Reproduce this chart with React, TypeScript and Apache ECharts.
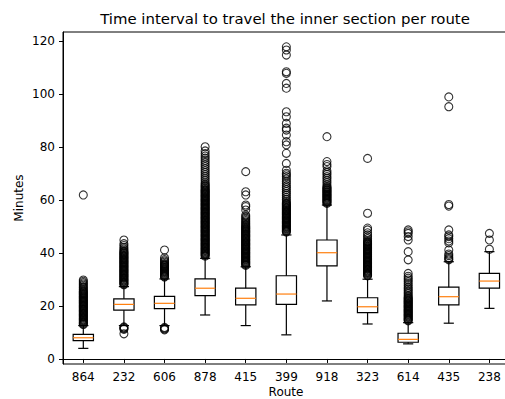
import React, { useEffect, useRef } from "react";
import * as echarts from "echarts";

// Bus routes, in plotting order
const routes = ["864", "232", "606", "878", "415", "399", "918", "323", "614", "435", "238"];

// Box statistics (minutes): whisker ends, quartiles and median per route
const whiskerLow = [4.0, 12.6, 12.6, 16.6, 12.6, 9.1, 21.9, 13.2, 5.7, 13.5, 19.1];
const quartile1 = [6.9, 18.4, 19.0, 23.9, 20.4, 20.6, 35.1, 17.5, 6.3, 20.4, 26.7];
const medians = [8.0, 20.6, 21.0, 26.7, 22.9, 24.5, 40.1, 19.7, 7.4, 23.5, 29.4];
const quartile3 = [9.3, 22.7, 23.6, 30.2, 26.7, 31.4, 44.9, 23.1, 9.7, 27.1, 32.3];
const whiskerHigh = [12.6, 27.3, 30.2, 38.0, 34.8, 46.8, 58.1, 30.1, 13.7, 36.7, 40.5];

// Outlying trips per route (minutes)
const fliers864 = [
  13.0, 13.3, 13.6, 13.9, 14.2, 14.5, 14.8, 15.1, 15.4, 15.7, 16.0, 16.3, 16.6, 16.9, 17.2, 17.5, 17.8, 18.1,
  18.4, 18.7, 19.0, 19.3, 19.6, 19.9, 20.2, 20.5, 20.8, 21.1, 21.4, 21.7, 22.0, 22.3, 22.6, 22.9, 23.2, 23.5,
  23.8, 24.1, 24.4, 24.7, 25.0, 25.3, 25.6, 26.0, 26.4, 26.9, 27.3, 27.8, 28.3, 28.8, 29.3, 29.8, 61.9,
];
const fliers232 = [
  9.5, 11.2, 11.5, 11.8, 12.1, 28.0, 28.3, 28.6, 28.9, 29.2, 29.5, 29.8, 30.1, 30.4, 30.7, 31.0, 31.3, 31.6,
  31.9, 32.2, 32.5, 32.8, 33.1, 33.4, 33.7, 34.0, 34.3, 34.6, 34.9, 35.2, 35.5, 35.8, 36.1, 36.4, 36.7, 37.0,
  37.3, 37.6, 37.9, 38.2, 38.5, 38.8, 39.1, 39.4, 39.7, 40.0, 40.3, 40.6, 41.0, 41.5, 42.1, 42.8, 43.5, 44.9,
];
const fliers606 = [
  11.0, 11.3, 11.6, 11.9, 30.9, 31.2, 31.5, 31.8, 32.1, 32.4, 32.7, 33.0, 33.3, 33.6, 33.9, 34.2, 34.5, 34.8,
  35.1, 35.4, 35.7, 36.0, 36.5, 37.0, 37.5, 38.2, 41.1,
];
const fliers878 = [
  38.8, 39.1, 39.4, 39.7, 40.0, 40.3, 40.6, 40.9, 41.2, 41.5, 41.8, 42.1, 42.4, 42.7, 43.0, 43.3, 43.6, 43.9,
  44.2, 44.5, 44.8, 45.1, 45.4, 45.7, 46.0, 46.3, 46.6, 46.9, 47.2, 47.5, 47.8, 48.1, 48.4, 48.7, 49.0, 49.3,
  49.6, 49.9, 50.2, 50.5, 50.8, 51.1, 51.4, 51.7, 52.0, 52.3, 52.6, 52.9, 53.2, 53.5, 53.8, 54.1, 54.4, 54.7,
  55.0, 55.3, 55.6, 55.9, 56.2, 56.5, 56.8, 57.1, 57.4, 57.7, 58.0, 58.3, 58.6, 58.9, 59.2, 59.5, 59.8, 60.1,
  60.4, 60.7, 61.0, 61.3, 61.6, 61.9, 62.2, 62.5, 62.8, 63.1, 63.4, 63.7, 64.0, 64.4, 64.8, 65.2, 65.6, 66.0,
  66.5, 67.3, 68.0, 68.8, 69.5, 70.3, 71.0, 71.8, 72.6, 73.4, 74.2, 75.0, 75.8, 76.6, 77.5, 78.5, 80.1,
];
const fliers415 = [
  35.3, 35.6, 35.9, 36.2, 36.5, 36.8, 37.1, 37.4, 37.7, 38.0, 38.3, 38.6, 38.9, 39.2, 39.5, 39.8, 40.1, 40.4,
  40.7, 41.0, 41.3, 41.6, 41.9, 42.2, 42.5, 42.8, 43.1, 43.4, 43.7, 44.0, 44.3, 44.6, 44.9, 45.2, 45.5, 45.8,
  46.1, 46.4, 46.7, 47.0, 47.3, 47.6, 47.9, 48.2, 48.5, 48.8, 49.1, 49.4, 49.7, 50.0, 50.4, 50.8, 51.2, 51.7,
  52.2, 52.7, 53.2, 53.8, 54.3, 56.2, 57.5, 58.1, 61.9, 63.1, 70.7,
];
const fliers399 = [
  47.9, 48.2, 48.5, 48.8, 49.1, 49.4, 49.7, 50.0, 50.3, 50.6, 50.9, 51.2, 51.5, 51.8, 52.1, 52.4, 52.7, 53.0,
  53.3, 53.6, 53.9, 54.2, 54.5, 54.8, 55.1, 55.4, 55.7, 56.0, 56.3, 56.6, 56.9, 57.2, 57.5, 57.8, 58.1, 58.4,
  58.7, 59.0, 59.6, 60.3, 61.0, 61.8, 62.5, 63.2, 64.0, 64.7, 65.4, 66.3, 67.1, 67.9, 68.8, 69.5, 70.1, 71.2,
  73.8, 77.6, 80.8, 82.0, 84.5, 86.4, 87.1, 88.9, 91.4, 93.3, 102.2, 104.0, 107.8, 108.4, 114.7, 116.6, 117.8,
];
const fliers918 = [
  58.7, 59.0, 59.3, 59.6, 59.9, 60.2, 60.5, 60.8, 61.1, 61.4, 61.7, 62.0, 62.3, 62.6, 62.9, 63.2, 63.5, 63.8,
  64.1, 64.4, 64.7, 65.0, 65.7, 66.5, 67.3, 68.1, 68.8, 69.6, 70.3, 71.0, 72.6, 73.4, 74.5, 83.9,
];
const fliers323 = [
  31.4, 31.7, 32.0, 32.3, 32.6, 32.9, 33.2, 33.5, 33.8, 34.1, 34.4, 34.7, 35.0, 35.3, 35.6, 35.9, 36.2, 36.5,
  36.8, 37.1, 37.4, 37.7, 38.0, 38.3, 38.6, 38.9, 39.2, 39.5, 39.8, 40.1, 40.4, 40.7, 41.0, 41.3, 41.6, 41.9,
  42.2, 42.5, 42.8, 43.1, 43.4, 43.7, 44.0, 44.3, 44.6, 45.4, 46.1, 46.8, 47.6, 48.7, 49.4, 55.0, 75.7,
];
const fliers614 = [
  14.4, 14.7, 15.0, 15.3, 15.6, 15.9, 16.2, 16.5, 16.8, 17.1, 17.4, 17.7, 18.0, 18.3, 18.6, 18.9, 19.2, 19.5,
  19.8, 20.1, 20.4, 20.7, 21.0, 21.3, 21.6, 21.9, 22.2, 22.5, 22.8, 23.1, 23.5, 24.0, 24.6, 25.2, 25.8, 26.4,
  27.0, 27.7, 28.4, 29.1, 29.8, 30.5, 31.2, 32.3, 37.4, 40.5, 44.9, 46.2, 47.4, 48.0, 48.7,
];
const fliers435 = [37.4, 37.8, 38.3, 39.0, 39.6, 41.1, 43.8, 44.5, 45.4, 46.2, 46.8, 48.7, 57.7, 58.3, 95.2, 98.9];
const fliers238 = [41.4, 44.9, 47.4];

const fliersByRoute = [
  fliers864, fliers232, fliers606, fliers878, fliers415, fliers399,
  fliers918, fliers323, fliers614, fliers435, fliers238,
];

const yTicks = [0, 20, 40, 60, 80, 100, 120];

const FONT = '"DejaVu Sans", sans-serif';
const LINE_W = 1.2;

function renderBox(params: any, api: any) {
  const i = api.value(0);
  const pLo = api.coord([i, api.value(1)]);
  const pQ1 = api.coord([i, api.value(2)]);
  const pMed = api.coord([i, api.value(3)]);
  const pQ3 = api.coord([i, api.value(4)]);
  const pHi = api.coord([i, api.value(5)]);
  const band = api.size([1, 0])[0];
  const half = band * 0.25;
  const cap = band * 0.125;
  const cx = pLo[0];
  const stroke = { stroke: "#000", lineWidth: LINE_W, fill: "none" };
  return {
    type: "group",
    children: [
      {
        type: "rect",
        shape: { x: cx - half, y: pQ3[1], width: half * 2, height: pQ1[1] - pQ3[1] },
        style: stroke,
      },
      { type: "line", shape: { x1: cx, y1: pQ1[1], x2: cx, y2: pLo[1] }, style: stroke },
      { type: "line", shape: { x1: cx, y1: pQ3[1], x2: cx, y2: pHi[1] }, style: stroke },
      { type: "line", shape: { x1: cx - cap, y1: pLo[1], x2: cx + cap, y2: pLo[1] }, style: stroke },
      { type: "line", shape: { x1: cx - cap, y1: pHi[1], x2: cx + cap, y2: pHi[1] }, style: stroke },
      {
        type: "line",
        shape: { x1: cx - half, y1: pMed[1], x2: cx + half, y2: pMed[1] },
        style: { stroke: "#ff7f0e", lineWidth: LINE_W },
      },
    ],
  };
}

export default function App() {
  const ref = useRef<HTMLDivElement>(null);

  useEffect(() => {
    if (!ref.current) return;
    const chart = echarts.init(ref.current, undefined, { renderer: "svg" });

    const boxData = routes.map((_, i) => [
      i,
      whiskerLow[i],
      quartile1[i],
      medians[i],
      quartile3[i],
      whiskerHigh[i],
    ]);
    const flierData: number[][] = [];
    fliersByRoute.forEach((list, i) => list.forEach((v) => flierData.push([i, v])));

    chart.setOption({
      animation: false,
      backgroundColor: "#fff",
      textStyle: { fontFamily: FONT },
      grid: {
        left: 63,
        right: 2.3,
        top: 32,
        bottom: 35,
        show: true,
        borderColor: "#000",
        borderWidth: 1,
        backgroundColor: "transparent",
      },
      graphic: [
        {
          type: "text",
          x: 285,
          y: 19,
          style: {
            text: "Time interval to travel the inner section per route",
            fontFamily: FONT,
            fontSize: 14.9,
            fill: "#000",
            textAlign: "center",
            textVerticalAlign: "middle",
          },
        },
        {
          type: "text",
          x: 286,
          y: 392,
          style: {
            text: "Route",
            fontFamily: FONT,
            fontSize: 12,
            fill: "#000",
            textAlign: "center",
            textVerticalAlign: "middle",
          },
        },
        {
          type: "text",
          x: 19,
          y: 198,
          rotation: Math.PI / 2,
          style: {
            text: "Minutes",
            fontFamily: FONT,
            fontSize: 12,
            fill: "#000",
            textAlign: "center",
            textVerticalAlign: "middle",
          },
        },
      ],
      xAxis: {
        type: "category",
        data: routes,
        boundaryGap: true,
        axisLine: { show: true, lineStyle: { color: "#000", width: 1 } },
        axisTick: { show: true, alignWithLabel: true, length: 4, lineStyle: { color: "#000", width: 1 } },
        axisLabel: { color: "#000", fontSize: 12, fontFamily: FONT, margin: 7, interval: 0 },
        splitLine: { show: false },
      },
      yAxis: {
        type: "value",
        min: -1.9,
        max: 123.4,
        axisLine: { show: true, lineStyle: { color: "#000", width: 1 } },
        axisTick: { show: true, length: 4, customValues: yTicks, lineStyle: { color: "#000", width: 1 } },
        axisLabel: { color: "#000", fontSize: 12, fontFamily: FONT, margin: 8, customValues: yTicks },
        splitLine: { show: false },
      },
      series: [
        {
          type: "custom",
          renderItem: renderBox,
          data: boxData,
          encode: { x: 0, y: [1, 2, 3, 4, 5] },
          z: 2,
        },
        {
          type: "scatter",
          data: flierData,
          symbol: "circle",
          symbolSize: 8,
          itemStyle: { color: "rgba(0,0,0,0)", borderColor: "#000", borderWidth: 1.1 },
          z: 3,
        },
      ],
    });

    return () => chart.dispose();
  }, []);

  return (
    <div style={{ position: "fixed", left: 0, top: 0, width: 505, height: 399, overflow: "hidden", background: "#fff" }}>
      <div ref={ref} style={{ width: 512, height: 399 }} />
    </div>
  );
}
